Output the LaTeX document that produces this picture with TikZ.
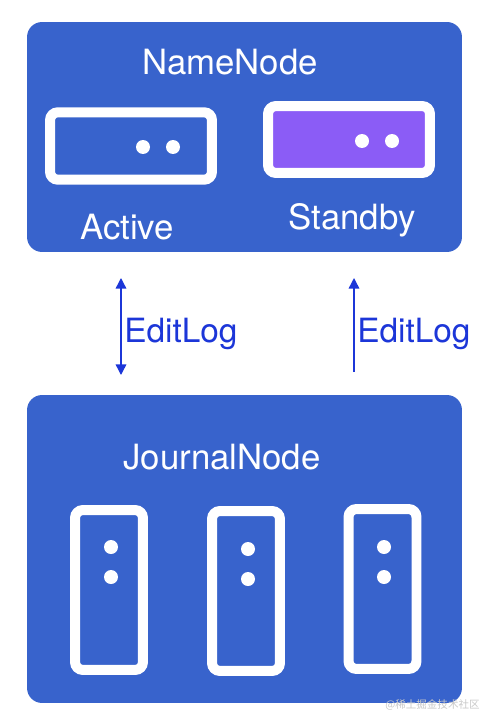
\documentclass[tikz,border=0pt]{standalone}
\usepackage{fontspec}
\setmainfont{TeX Gyre Heros}
\newfontfamily\cjkfont{Noto Sans CJK SC}
\usepackage{xcolor}
\usetikzlibrary{positioning}
\usetikzlibrary{arrows.meta, calc}
\definecolor{hdfsblue}{HTML}{3863CC}
\definecolor{standbypurple}{HTML}{8B5CF6}
\definecolor{logblue}{HTML}{1C36D8}
\definecolor{markgray}{HTML}{C8C8C8}

\tikzset{
    groupbox/.style={fill=hdfsblue, draw=none, rounded corners=0.3cm, minimum width=8.7cm},
    nodebox/.style={draw=white, line width=0.2cm, rounded corners=0.16cm, minimum width=3.24cm, minimum height=1.35cm},
    jnbox/.style={draw=white, line width=0.2cm, rounded corners=0.16cm, fill=hdfsblue, minimum width=1.36cm, minimum height=3.2cm},
    dot/.style={circle, fill=white, inner sep=0pt, minimum size=0.28cm},
    title/.style={text=white, font=\fontsize{19.8}{23}\selectfont},
    loglabel/.style={text=logblue, font=\fontsize{19}{22}\selectfont, anchor=west, inner sep=0pt},
    logarrow/.style={draw=logblue, line width=0.8pt, -{Triangle[length=6pt,width=6pt]}}
}

\begin{document}
\begin{tikzpicture}[x=0.02cm, y=-0.02cm]
        \useasboundingbox (0,0) rectangle (494,726);
        % NameNode group
        \node[groupbox, minimum height=4.6cm] (namenode) at (244.5,137) {};
        \node[title] (nntitle) at (230,62) {NameNode};
        \node[nodebox, fill=hdfsblue] (active) at (131,146) {};
        \node[nodebox, fill=standbypurple, minimum height=1.34cm] (standby) at (349,139.5) {};
        \node[dot] (a1) at (143,147) {};
        \node[dot] (a2) at (173,147) {};
        \node[dot] (s1) at (362,141) {};
        \node[dot] (s2) at (392,141) {};
        \node[title] (activelabel) at (127,227) {Active};
        \node[title] (standbylabel) at (352,220) {Standby};

        % EditLog arrows
        \coordinate (l1top) at (121,278);
        \coordinate (l1bot) at (121,375);
        \coordinate (l2top) at (354,278);
        \coordinate (l2bot) at (354,372);
        \draw[logarrow, {Triangle[length=6pt,width=6pt]}-{Triangle[length=6pt,width=6pt]}] (l1top) -- (l1bot);
        \draw[logarrow] (l2bot) -- (l2top);
        \node[loglabel] (log1) at (124,334) {EditLog};
        \node[loglabel] (log2) at (357,334) {EditLog};

        % JournalNode group
        \node[groupbox, minimum height=6.16cm] (journal) at (244.5,549) {};
        \node[title] (jntitle) at (222,457) {JournalNode};
        \node[jnbox] (jn1) at (109,590) {};
        \node[jnbox] (jn2) at (246,591) {};
        \node[jnbox] (jn3) at (382.5,589) {};
        \node[dot] (j1a) at (111,547) {};
        \node[dot] (j1b) at (111,577) {};
        \node[dot] (j2a) at (248,549) {};
        \node[dot] (j2b) at (248,579) {};
        \node[dot] (j3a) at (384,547) {};
        \node[dot] (j3b) at (384,577) {};

        % watermark
        \node[anchor=west, inner sep=0pt, text=markgray, font=\cjkfont\fontsize{6}{7}\selectfont] (mark) at (385,705) {@稀土掘金技术社区};
    \end{tikzpicture}
\end{document}
